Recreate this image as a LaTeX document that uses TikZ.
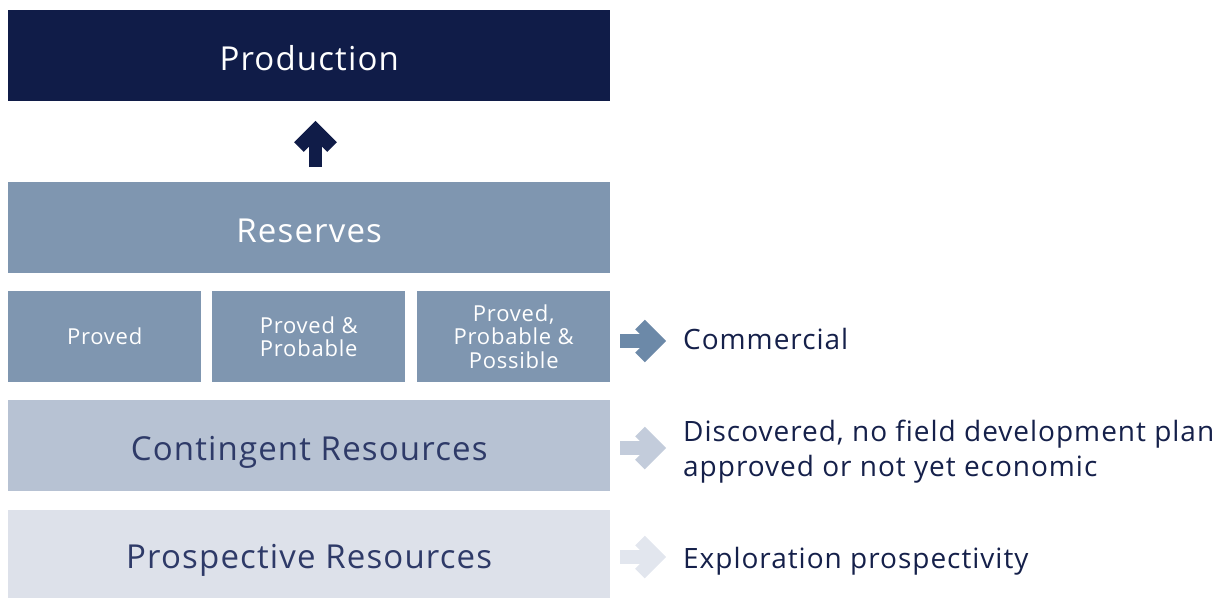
\documentclass[tikz,border=0pt]{standalone}
\usepackage{fontspec}
\setmainfont{Open Sans}[Ligatures={NoCommon}, LetterSpace=3.5]
\definecolor{navy}{HTML}{101C48}
\definecolor{resc}{HTML}{7F96B0}
\definecolor{contc}{HTML}{B7C2D3}
\definecolor{prospc}{HTML}{DDE1EA}
\definecolor{txtc}{HTML}{15204A}
\definecolor{ctxt}{HTML}{2E3A68}
\definecolor{arrA}{HTML}{6C89A8}
\definecolor{arrB}{HTML}{C3CCDB}
\definecolor{arrD}{HTML}{E2E6EE}
\begin{document}
\begin{tikzpicture}[x=1pt,y=-1pt,
  box/.style={fill=#1, draw=none, inner sep=0pt, anchor=north west, align=center},
  wide/.style={minimum width=602pt, minimum height=91pt, font=\fontsize{33}{38}\selectfont, text height=29pt, text depth=0pt},
  sub/.style={minimum width=193pt, minimum height=91pt, text=white, font=\fontsize{22}{23.5}\selectfont},
  side/.style={anchor=base west, text=txtc, align=left, font=\fontsize{28}{35}\selectfont, inner sep=0pt},
  blockarrow/.style={line width=13.5pt, draw=#1, line join=miter, line cap=butt}]
\useasboundingbox (0,0) rectangle (1212,598);
\node[box=navy, wide, text=white] (prod) at (8,10) {Production};
\node[box=resc, wide, text=white] (res) at (8,182) {Reserves};
\node[box=resc, sub] (p1) at (8,291) {Proved};
\node[box=resc, sub] (p2) at (212,291) {Proved \&\\Probable};
\node[box=resc, sub] (p3) at (417,291) {Proved,\\Probable \&\\Possible};
\node[box=contc, wide, text=ctxt] (cont) at (8,400) {Contingent Resources};
\node[box=prospc, wide, text=ctxt, minimum height=88pt] (prosp) at (8,510) {Prospective Resources};
% up arrow
\draw[blockarrow=navy] (315.5,167) -- (315.5,134);
\draw[blockarrow=navy] (299,147) -- (315.5,130.5) -- (332,147);
% right arrows
\foreach \yy/\cc in {341/arrA, 448/arrB, 557/arrD}{
  \draw[blockarrow=\cc] (620,\yy) -- (652,\yy);
  \draw[blockarrow=\cc] (640,\yy-16.5) -- (656.5,\yy) -- (640,\yy+16.5);
}
\node[side] (com) at (683,349) {Commercial};
\node[side] (disc) at (683,476) {Discovered, no field development plan\\approved or not yet economic};
\node[side] (expl) at (683,568) {Exploration prospectivity};
\end{tikzpicture}
\end{document}
